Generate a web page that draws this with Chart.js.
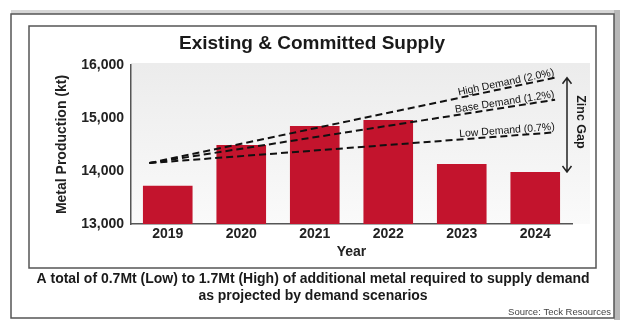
<!DOCTYPE html>
<html>
<head>
<meta charset="utf-8">
<script src="https://cdn.jsdelivr.net/npm/chart.js@4.4.0/dist/chart.umd.min.js"></script>
<style>
html, body { margin: 0; padding: 0; background: #fff; }
#myChart { display: block; }
</style>
</head>
<body>
<canvas id="myChart" width="624" height="327"></canvas>
<script>
// supply bars (kt)
const years = ['2019', '2020', '2021', '2022', '2023', '2024'];
const supply = [13720, 14490, 14850, 14960, 14130, 13980];

// demand scenario lines: start / end
const demandYears = [2018.75, 2024.27];
const highDemand = [14150, 15760];
const baseDemand = [14150, 15345];
const lowDemand = [14150, 14730];
const demandLabels = ['High Demand (2.0%)', 'Base Demand (1.2%)', 'Low Demand (0.7%)'];

const yTicks = [13000, 14000, 15000, 16000];

const titleText = 'Existing & Committed Supply';
const footerLines = [
    'A total of 0.7Mt (Low) to 1.7Mt (High) of additional metal required to supply demand',
    'as projected by demand scenarios'
];
const sourceText = 'Source: Teck Resources';

const FONT = "'Liberation Sans', Arial, Helvetica, sans-serif";
Chart.defaults.font.family = FONT;
Chart.defaults.color = '#222';

function toPoints(ys) {
    return demandYears.map((x, i) => ({ x: x, y: ys[i] }));
}

function demandLine(ys) {
    return {
        type: 'line',
        xAxisID: 'x2',
        data: toPoints(ys),
        borderColor: '#111',
        borderWidth: 2,
        borderDash: [7, 4],
        pointRadius: 0,
        fill: false,
        tension: 0,
        order: 1
    };
}

const frame = {
    id: 'frame',
    beforeDraw(chart) {
        const c = chart.ctx;
        const a = chart.chartArea;
        c.save();
        c.fillStyle = '#fff';
        c.fillRect(0, 0, chart.width, chart.height);
        // shading of outer frame
        c.fillStyle = '#d6d6d6';
        c.fillRect(11, 10, 609, 4);
        c.fillStyle = '#b8b8b8';
        c.fillRect(614, 10, 6, 310);
        // outer frame
        c.strokeStyle = '#555';
        c.lineWidth = 1.5;
        c.strokeRect(11, 14, 603, 304);
        // inner frame
        c.strokeRect(29, 26, 567, 242);
        // plot background
        const g = c.createLinearGradient(0, a.top, 0, a.bottom);
        g.addColorStop(0, '#ececec');
        g.addColorStop(1, '#fafafa');
        c.fillStyle = g;
        c.fillRect(a.left, a.top - 2, a.right - a.left + 18, a.bottom - a.top + 2);
        c.restore();
    },
    afterDraw(chart) {
        const c = chart.ctx;
        const a = chart.chartArea;
        const y = chart.scales.y;
        c.save();
        c.fillStyle = '#1a1a1a';
        c.textAlign = 'center';
        c.textBaseline = 'middle';

        // title
        c.font = 'bold 19px ' + FONT;
        c.fillText(titleText, 312, 44);

        // footer (condensed to the frame width)
        c.font = 'bold 14px ' + FONT;
        const r = 553 / c.measureText(footerLines[0]).width;
        footerLines.forEach((t, i) => {
            c.save();
            c.translate(313, 279 + i * 17);
            c.scale(Math.min(r, 1), 1);
            c.fillText(t, 0, 0);
            c.restore();
        });

        // source
        c.font = '9.5px ' + FONT;
        c.fillStyle = '#444';
        c.textAlign = 'right';
        c.fillText(sourceText, 611, 312);

        // demand labels along their lines
        c.fillStyle = '#111';
        c.font = '10.5px ' + FONT;
        c.textAlign = 'right';
        c.textBaseline = 'alphabetic';
        [0, 1, 2].forEach(i => {
            const pts = chart.getDatasetMeta(i + 1).data;
            const p0 = pts[0], p1 = pts[1];
            const ang = Math.atan2(p1.y - p0.y, p1.x - p0.x);
            c.save();
            c.translate(p1.x, p1.y);
            c.rotate(ang);
            c.fillText(demandLabels[i], 0, -2.5);
            c.restore();
        });

        // zinc gap arrow
        const ax = a.right - 5;
        const top = chart.getDatasetMeta(1).data[1].y;
        const bot = y.getPixelForValue(supply[supply.length - 1]);
        c.strokeStyle = '#222';
        c.lineWidth = 1.5;
        c.beginPath();
        c.moveTo(ax, top);
        c.lineTo(ax, bot);
        c.moveTo(ax - 4.5, top + 6);
        c.lineTo(ax, top);
        c.lineTo(ax + 4.5, top + 6);
        c.moveTo(ax - 4.5, bot - 6);
        c.lineTo(ax, bot);
        c.lineTo(ax + 4.5, bot - 6);
        c.stroke();

        c.save();
        c.translate(ax + 13, (top + bot) / 2 - 3);
        c.rotate(Math.PI / 2);
        c.font = 'bold 12.5px ' + FONT;
        c.fillStyle = '#1a1a1a';
        c.textAlign = 'center';
        c.textBaseline = 'middle';
        c.fillText('Zinc Gap', 0, 0);
        c.restore();

        c.restore();
    }
};

const ctx = document.getElementById('myChart');

let myChart = new Chart(ctx, {
    type: 'bar',
    data: {
        labels: years,
        datasets: [
            {
                label: 'Supply',
                data: supply,
                backgroundColor: '#c3142d',
                borderWidth: 0,
                grouped: false,
                categoryPercentage: 1,
                barPercentage: 0.675,
                order: 2
            },
            demandLine(highDemand),
            demandLine(baseDemand),
            demandLine(lowDemand)
        ]
    },
    options: {
        responsive: false,
        animation: false,
        layout: {
            padding: { left: 53.6, right: 52, top: 65, bottom: 66.6 }
        },
        plugins: {
            legend: { display: false },
            tooltip: { enabled: false },
            title: { display: false }
        },
        scales: {
            x: {
                grid: { display: false, drawTicks: false },
                border: { display: true, color: '#555', width: 1.5 },
                ticks: {
                    padding: 2,
                    color: '#222',
                    font: { size: 14, weight: 'bold' }
                },
                title: {
                    display: true,
                    text: 'Year',
                    color: '#222',
                    padding: 0,
                    font: { size: 14, weight: 'bold' }
                },
                afterFit: s => { s.height = 36.4; }
            },
            x2: {
                type: 'linear',
                display: false,
                offset: false,
                grid: { offset: false },
                min: 2018.5,
                max: 2024.5
            },
            y: {
                min: 13000,
                max: 16000,
                grid: { display: false, drawTicks: false },
                border: { display: true, color: '#555', width: 1.5 },
                afterBuildTicks: s => { s.ticks = yTicks.map(v => ({ value: v })); },
                ticks: {
                    padding: 7,
                    color: '#222',
                    font: { size: 14, weight: 'bold' }
                },
                title: {
                    display: true,
                    text: 'Metal Production (kt)',
                    color: '#222',
                    padding: 0,
                    font: { size: 14, weight: 'bold' }
                },
                afterFit: s => { s.width = 77.4; }
            }
        }
    },
    plugins: [frame]
});
</script>
</body>
</html>
